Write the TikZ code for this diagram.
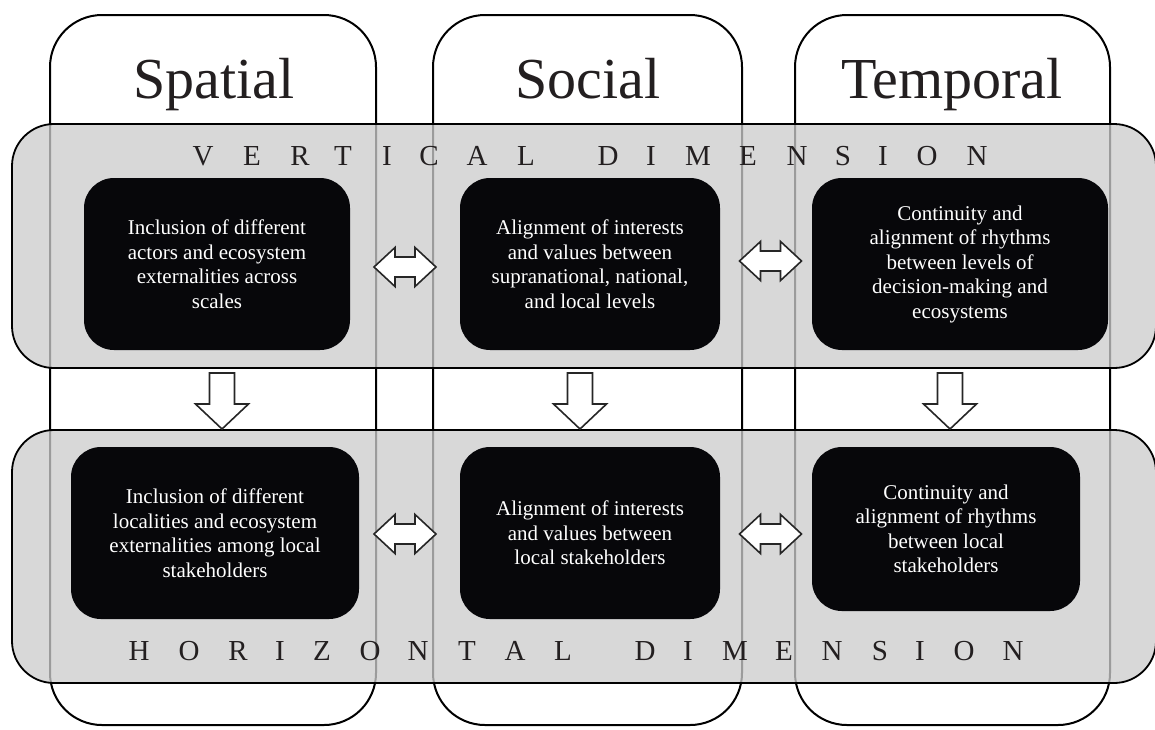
\documentclass[tikz,border=0pt]{standalone}
\usepackage{fontspec}
\setmainfont{Liberation Serif}
\usetikzlibrary{calc}
\definecolor{ink}{HTML}{231F20}
\definecolor{boxblack}{HTML}{07070A}
\definecolor{bandgray}{gray}{0.8}
\definecolor{arrowline}{HTML}{262626}
\begin{document}
\begin{tikzpicture}[x=1pt,y=-1pt,
  colbox/.style={draw=black,line width=2pt,fill=white,rounded corners=52pt,inner sep=0pt},
  band/.style={draw=black,line width=1.8pt,fill=bandgray,fill opacity=0.76,rounded corners=42pt,inner sep=0pt},
  title/.style={text=ink,font=\fontsize{58}{60}\selectfont,anchor=base,inner sep=0pt},
  bandletter/.style={text=ink,font=\fontsize{29}{30}\selectfont,anchor=base,inner sep=0pt},
  blackbox/.style={fill=boxblack,draw=none,rounded corners=30pt,inner sep=0pt,text=white,align=center,
    font=\fontsize{21}{24.5}\selectfont},
  arrowstyle/.style={draw=arrowline,fill=white,line width=1.6pt,line join=miter},
  harrow/.pic={\path[arrowstyle] (-31,0) -- (-10,-19.5) -- (-10,-10) -- (10,-10) -- (10,-19.5) -- (31,0)
      -- (10,19.5) -- (10,10) -- (-10,10) -- (-10,19.5) -- cycle;},
  varrow/.pic={\path[arrowstyle] (-12.5,-28) -- (12.5,-28) -- (12.5,3) -- (26.5,3) -- (0,28)
      -- (-26.5,3) -- (-12.5,3) -- cycle;}
]
\useasboundingbox (0,0) rectangle (1155,729);

% columns
\node[colbox,minimum width=326pt,minimum height=710pt] (colSpatial) at (213,370) {};
\node[colbox,minimum width=309pt,minimum height=710pt] (colSocial) at (587.5,370) {};
\node[colbox,minimum width=315pt,minimum height=710pt] (colTemporal) at (952.5,370) {};

\node[title] (tSpatial) at (214,98) {Spatial};
\node[title] (tSocial) at (588,98) {Social};
\node[title] (tTemporal) at (952,98) {Temporal};

% bands
\node[band,minimum width=1144pt,minimum height=244pt] (bandV) at (584,246) {};
\node[band,minimum width=1144pt,minimum height=253pt] (bandH) at (584,556.5) {};

% band labels
\foreach \x/\l [count=\i] in {203/V,252/E,300/R,343/T,387/I,429/C,477/A,526/L,608/D,651/I,698/M,748/E,797/N,843/S,883/I,927/O,977/N}
  \node[bandletter,name=vl\i] at (\x,165) {\l};
\foreach \x/\l [count=\i] in {139/H,189/O,238/R,280/I,322/Z,370/O,418/N,467/T,515/A,563/L,645/D,688/I,735/M,784/E,832/N,880/S,920/I,964/O,1013/N}
  \node[bandletter,name=hl\i] at (\x,660) {\l};

% black boxes
\node[blackbox,minimum width=266pt,minimum height=172pt] (v1) at (217,264)
  {Inclusion of different\\actors and ecosystem\\externalities across\\scales};
\node[blackbox,minimum width=260pt,minimum height=172pt] (v2) at (590,264)
  {Alignment of interests\\and values between\\supranational, national,\\and local levels};
\node[blackbox,minimum width=296pt,minimum height=172pt] (v3) at (960,264)
  {Continuity and\\alignment of rhythms\\between levels of\\decision-making and\\ecosystems};
\node[blackbox,minimum width=288pt,minimum height=172pt] (h1) at (215,533)
  {Inclusion of different\\localities and ecosystem\\externalities among local\\stakeholders};
\node[blackbox,minimum width=260pt,minimum height=172pt] (h2) at (590,533)
  {Alignment of interests\\and values between\\local stakeholders};
\node[blackbox,minimum width=268pt,minimum height=164pt] (h3) at (946,529)
  {Continuity and\\alignment of rhythms\\between local\\stakeholders};

% arrows
\coordinate (a12) at ($(v1.east)!0.5!(v2.west)+(0,3)$);
\coordinate (a23) at (770.5,261);
\coordinate (b12) at (405,534);
\coordinate (b23) at (770.5,534);
\pic at (a12) {harrow};
\pic at (a23) {harrow};
\pic at (b12) {harrow};
\pic at (b23) {harrow};
\coordinate (d1) at (222,401);
\coordinate (d2) at (580,401);
\coordinate (d3) at (950,401);
\pic at (d1) {varrow};
\pic at (d2) {varrow};
\pic at (d3) {varrow};
\end{tikzpicture}
\end{document}
